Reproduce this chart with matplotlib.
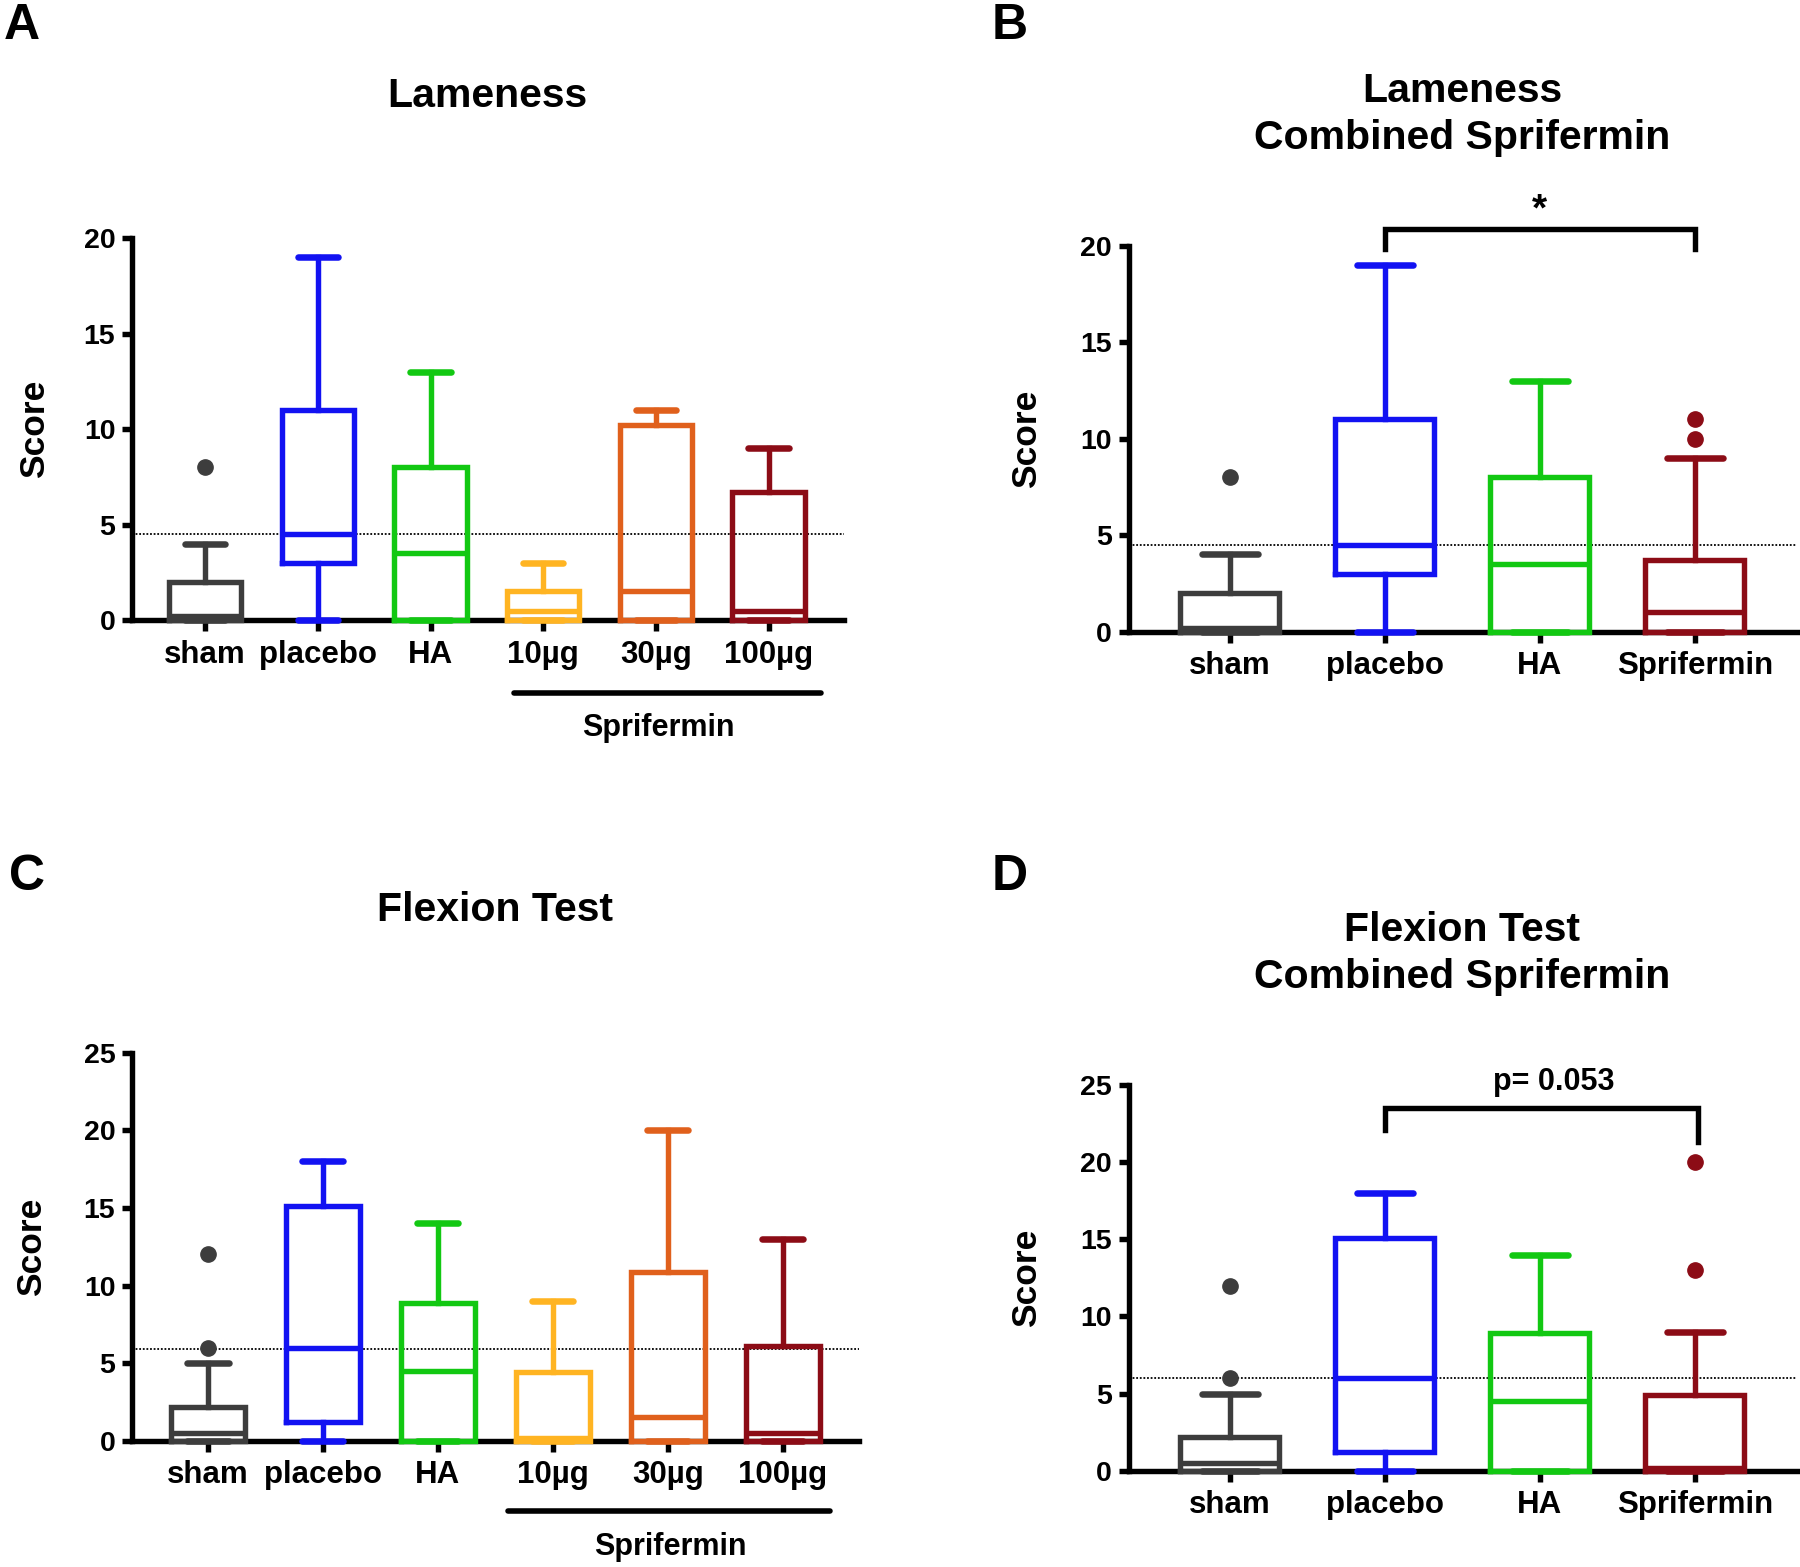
import matplotlib
matplotlib.use('Agg')
import matplotlib.pyplot as plt
from matplotlib.transforms import blended_transform_factory

plt.rcParams['font.family'] = ['Liberation Sans', 'DejaVu Sans']
plt.rcParams['font.weight'] = 'bold'

# colours per group
C_SHAM = '#3d3d3d'
C_PLAC = '#1212f2'
C_HA = '#12c812'
C_10 = '#ffb422'
C_30 = '#e0601c'
C_100 = '#8c0c16'

# ---------- Panel A : Lameness ----------
a_labels = ['sham', 'placebo', 'HA', '10µg', '30µg', '100µg']
a_whislo = [0, 0, 0, 0, 0, 0]
a_q1 = [0, 3, 0, 0, 0, 0]
a_med = [0.2, 4.5, 3.5, 0.5, 1.5, 0.5]
a_q3 = [2, 11, 8, 1.5, 10.2, 6.7]
a_whishi = [4, 19, 13, 3, 11, 9]
a_fliers = [[8], [], [], [], [], []]
a_ref = 4.5

# ---------- Panel B : Lameness combined ----------
b_labels = ['sham', 'placebo', 'HA', 'Sprifermin']
b_whislo = [0, 0, 0, 0]
b_q1 = [0, 3, 0, 0]
b_med = [0.2, 4.5, 3.5, 1.0]
b_q3 = [2, 11, 8, 3.7]
b_whishi = [4, 19, 13, 9]
b_fliers = [[8], [], [], [10, 11]]
b_ref = 4.5

# ---------- Panel C : Flexion test ----------
c_labels = ['sham', 'placebo', 'HA', '10µg', '30µg', '100µg']
c_whislo = [0, 0, 0, 0, 0, 0]
c_q1 = [0, 1.2, 0, 0, 0, 0]
c_med = [0.5, 6, 4.5, 0.2, 1.5, 0.5]
c_q3 = [2.2, 15.1, 8.9, 4.4, 10.9, 6.1]
c_whishi = [5, 18, 14, 9, 20, 13]
c_fliers = [[6, 12], [], [], [], [], []]
c_ref = 5.9

# ---------- Panel D : Flexion test combined ----------
d_labels = ['sham', 'placebo', 'HA', 'Sprifermin']
d_whislo = [0, 0, 0, 0]
d_q1 = [0, 1.2, 0, 0]
d_med = [0.5, 6, 4.5, 0.2]
d_q3 = [2.2, 15.1, 8.9, 4.9]
d_whishi = [5, 18, 14, 9]
d_fliers = [[6, 12], [], [], [13, 20]]
d_ref = 6.0

colors6 = [C_SHAM, C_PLAC, C_HA, C_10, C_30, C_100]
colors4 = [C_SHAM, C_PLAC, C_HA, C_100]

LW = 3.9

fig = plt.figure(figsize=(18, 15.67), dpi=100)


def panel(rect, labels, wlo, q1, med, q3, whi, fliers, colors, ymax, ref,
          xlim, score_x):
    ax = fig.add_axes(rect)
    for i in range(len(labels)):
        st = [dict(whislo=wlo[i], q1=q1[i], med=med[i], q3=q3[i],
                   whishi=whi[i], fliers=fliers[i])]
        c = colors[i]
        arts = ax.bxp(st, positions=[i + 1], widths=0.64, capwidths=0.36,
                      showfliers=True, manage_ticks=False, zorder=3,
                      boxprops=dict(color=c, linewidth=LW, solid_joinstyle='miter'),
                      medianprops=dict(color=c, linewidth=LW),
                      whiskerprops=dict(color=c, linewidth=LW),
                      capprops=dict(color=c, linewidth=LW + 0.8, solid_capstyle='round'),
                      flierprops=dict(marker='o', markerfacecolor=c,
                                      markeredgecolor=c, markersize=11))
        for k in arts:
            for a in arts[k]:
                a.set_clip_on(False)
    ax.axhline(ref, color='black', linestyle=(0, (1, 1)), linewidth=1.3, zorder=1)
    ax.set_xlim(*xlim)
    ax.set_ylim(0, ymax)
    ax.set_xticks(range(1, len(labels) + 1))
    ax.set_xticklabels(labels, fontsize=22.5, fontweight='bold')
    ax.set_yticks(range(0, ymax + 1, 5))
    ax.set_yticklabels([str(v) for v in range(0, ymax + 1, 5)], fontsize=20.5,
                       fontweight='bold')
    for s in ['top', 'right']:
        ax.spines[s].set_visible(False)
    for s in ['left', 'bottom']:
        ax.spines[s].set_linewidth(LW)
    ax.tick_params(axis='x', length=8, width=LW, pad=6)
    ax.tick_params(axis='y', length=7, width=LW, pad=5)
    ax.set_ylabel('Score', fontsize=25.5, fontweight='bold')
    ax.yaxis.set_label_coords(score_x, 0.5)
    return ax


axA = panel([0.0733, 0.6043, 0.3956, 0.2438], a_labels, a_whislo, a_q1, a_med,
            a_q3, a_whishi, a_fliers, colors6, 20, a_ref, (0.35, 6.67), -0.114)
axB = panel([0.627, 0.597, 0.3714, 0.2461], b_labels, b_whislo, b_q1, b_med,
            b_q3, b_whishi, b_fliers, colors4, 20, b_ref, (0.348, 4.66), -0.1275)
axC = panel([0.0733, 0.0806, 0.4037, 0.2476], c_labels, c_whislo, c_q1, c_med,
            c_q3, c_whishi, c_fliers, colors6, 25, c_ref, (0.34, 6.66), -0.115)
axD = panel([0.627, 0.0615, 0.3714, 0.2461], d_labels, d_whislo, d_q1, d_med,
            d_q3, d_whishi, d_fliers, colors4, 25, d_ref, (0.348, 4.66), -0.1275)

# Sprifermin group bars
for ax, ybar, ytxt, x0, x1 in [(axA, -0.191, -0.283, 3.74, 6.47),
                               (axC, -0.181, -0.275, 3.61, 6.41)]:
    tr = blended_transform_factory(ax.transData, ax.transAxes)
    ax.plot([x0, x1], [ybar, ybar], color='black', linewidth=4, transform=tr,
            clip_on=False, solid_capstyle='round')
    ax.text(5.02, ytxt, 'Sprifermin', transform=tr, ha='center', va='center',
            fontsize=22, fontweight='bold')

# significance brackets
axB.plot([2, 2, 4, 4], [19.83, 20.9, 20.9, 19.83], color='black', linewidth=LW,
         clip_on=False, solid_joinstyle='miter')
axB.text(3, 21.85, '*', ha='center', va='center', fontsize=28, fontweight='bold')
axD.plot([2, 2, 4.02, 4.02], [22.07, 23.5, 23.5, 21.3], color='black',
         linewidth=LW, clip_on=False, solid_joinstyle='miter')
axD.text(3.09, 25.2, 'p= 0.053', ha='center', va='center', fontsize=22,
         fontweight='bold')

# titles
fig.text(0.271, 0.9385, 'Lameness', ha='center', va='center', fontsize=29.5,
         fontweight='bold')
fig.text(0.8125, 0.9268, 'Lameness\nCombined Sprifermin', ha='center',
         va='center', fontsize=29.5, fontweight='bold', linespacing=1.31)
fig.text(0.275, 0.419, 'Flexion Test', ha='center', va='center', fontsize=29.5,
         fontweight='bold')
fig.text(0.8125, 0.3915, 'Flexion Test\nCombined Sprifermin', ha='center',
         va='center', fontsize=29.5, fontweight='bold', linespacing=1.31)

# panel letters
for x, y, t in [(0.002, 0.998, 'A'), (0.551, 0.998, 'B'),
                (0.005, 0.455, 'C'), (0.551, 0.455, 'D')]:
    fig.text(x, y, t, ha='left', va='top', fontsize=36, fontweight='bold')

fig.savefig('out.png', dpi=100)
